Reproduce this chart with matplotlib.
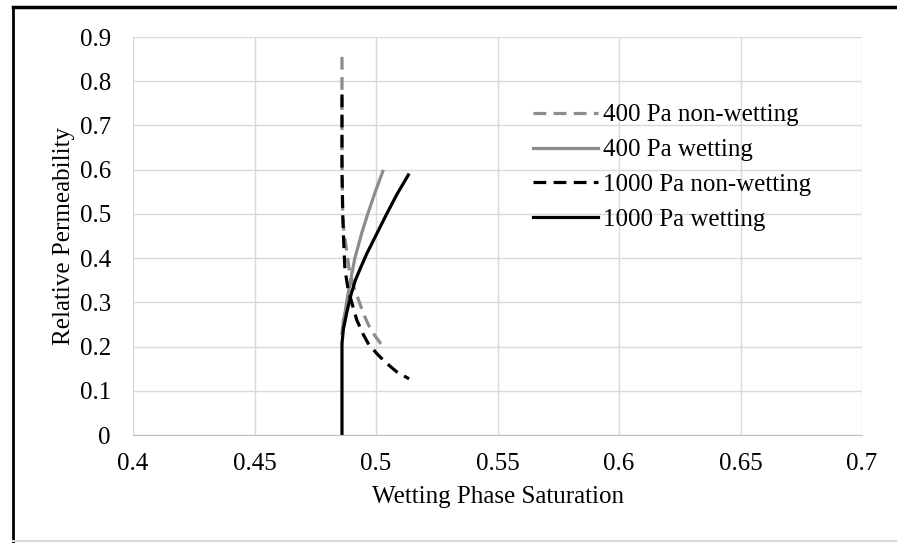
import matplotlib
matplotlib.use("Agg")
import matplotlib.pyplot as plt
from matplotlib.lines import Line2D

plt.rcParams['font.family'] = ['Liberation Serif', 'DejaVu Serif']

# 400 Pa non-wetting
nw400_x = [0.486, 0.486, 0.4863, 0.4868, 0.4876, 0.4888, 0.4905, 0.4927, 0.4948, 0.4968, 0.4995, 0.5019, 0.503]
nw400_y = [0.855, 0.62, 0.5, 0.46, 0.43, 0.38, 0.34, 0.307, 0.275, 0.25, 0.225, 0.207, 0.2]
# 400 Pa wetting
w400_x = [0.486, 0.4866, 0.4872, 0.4882, 0.4893, 0.4913, 0.4941, 0.4966, 0.4997, 0.5028]
w400_y = [0.23, 0.26, 0.275, 0.31, 0.343, 0.40, 0.456, 0.50, 0.55, 0.596]
# 1000 Pa non-wetting
nw1000_x = [0.486, 0.486, 0.4863, 0.4866, 0.4872, 0.4885, 0.49, 0.4921, 0.4945, 0.4968, 0.5005, 0.5044, 0.5085, 0.5136]
nw1000_y = [0.77, 0.6, 0.5, 0.45, 0.375, 0.33, 0.3, 0.26, 0.23, 0.207, 0.183, 0.162, 0.143, 0.127]
# 1000 Pa wetting
w1000_x = [0.486, 0.486, 0.4866, 0.4879, 0.4896, 0.4915, 0.4938, 0.4962, 0.5003, 0.5044, 0.5087, 0.5133]
w1000_y = [0.0, 0.207, 0.24, 0.275, 0.315, 0.35, 0.38, 0.41, 0.455, 0.50, 0.545, 0.588]

labels = ["400 Pa non-wetting", "400 Pa wetting", "1000 Pa non-wetting", "1000 Pa wetting"]
xticks = [0.4, 0.45, 0.5, 0.55, 0.6, 0.65, 0.7]
yticks = [0, 0.1, 0.2, 0.3, 0.4, 0.5, 0.6, 0.7, 0.8, 0.9]

gray = "#8c8c8c"
fs = 18
fig = plt.figure(figsize=(8.97, 5.43), dpi=100)
ax = fig.add_axes([133/897, 1-435/543, (862-133)/897, (435-37)/543])

dash = (0, (4, 2.3))
ax.plot(nw400_x, nw400_y, color=gray, lw=2.3, linestyle=dash, label=labels[0])
ax.plot(w400_x, w400_y, color=gray, lw=2.3, label=labels[1])
ax.plot(nw1000_x, nw1000_y, color="black", lw=2.3, linestyle=dash, label=labels[2])
ax.plot(w1000_x, w1000_y, color="black", lw=2.3, label=labels[3])

ax.set_xlim(0.4, 0.7)
ax.set_ylim(0, 0.9)
ax.set_xticks(xticks)
ax.set_xticklabels([f"{t:g}" for t in xticks])
ax.set_yticks(yticks)
ax.set_yticklabels([f"{t:g}" for t in yticks])
ax.grid(True, color="#d9d9d9", lw=1)
ax.set_axisbelow(True)
for s in ["top", "right", "left"]:
    ax.spines[s].set_visible(False)
ax.spines["bottom"].set_color("#bfbfbf")
ax.tick_params(length=0, labelsize=fs, colors="black")
ax.tick_params(axis="x", pad=13)
ax.tick_params(axis="y", pad=16)
ax.set_xlabel("Wetting Phase Saturation", fontsize=fs)
ax.set_ylabel("Relative Permeability", fontsize=fs)
ax.xaxis.set_label_coords(0.5, -0.128)
ax.yaxis.set_label_coords(-0.08, 0.5)

ax.legend(loc="upper left", bbox_to_anchor=(533/897, 1-104/543), bbox_transform=fig.transFigure,
          frameon=False, fontsize=fs, handlelength=2.6, handletextpad=0.2,
          labelspacing=0.49, borderpad=0, borderaxespad=0)

# frame lines of the cropped figure
fig.add_artist(Line2D([13/897, 13/897], [0, 1-7/543], color="black", lw=2, transform=fig.transFigure))
fig.add_artist(Line2D([13/897, 1], [1-7/543, 1-7/543], color="black", lw=2.5, transform=fig.transFigure))
fig.add_artist(Line2D([13/897, 1], [1-541/543, 1-541/543], color="#d9d9d9", lw=1.5, transform=fig.transFigure))

fig.savefig("out.png", dpi=100)
